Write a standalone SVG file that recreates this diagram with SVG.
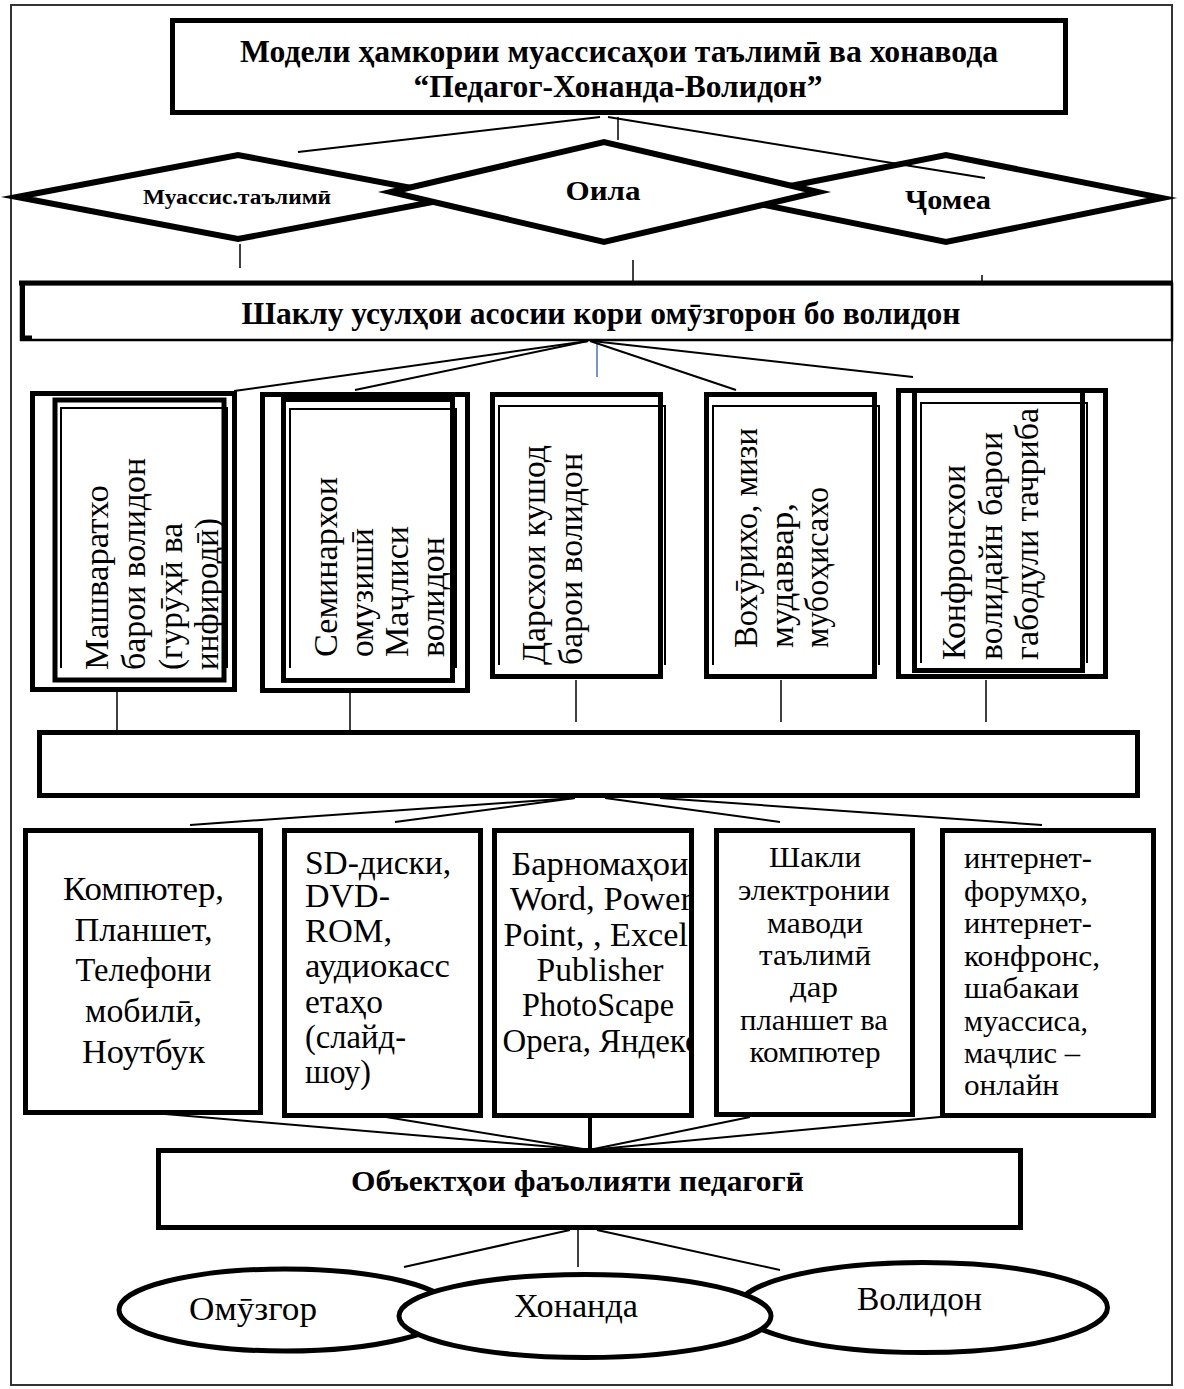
<svg xmlns="http://www.w3.org/2000/svg" width="1184" height="1389" viewBox="0 0 1184 1389">
<style>
text{font-family:"Liberation Serif","Times New Roman",serif;fill:#000}
.b{font-weight:bold}
.box{fill:#fff;stroke:#000;stroke-width:5}
.dia{fill:#fff;stroke:#000;stroke-width:6;stroke-miterlimit:12}
.ell{fill:#fff;stroke:#000;stroke-width:5}
.tf{fill:none;stroke:#000;stroke-width:2}
.c{stroke:#000;stroke-width:2;fill:none}
.c1{stroke:#000;stroke-width:1.5;fill:none}
.mid{text-anchor:middle}
</style>
<defs>
<clipPath id="clipC"><rect x="494" y="830" width="198" height="286"/></clipPath>
</defs>
<rect x="0" y="0" width="1184" height="1389" fill="#fff"/>
<g id="frame"><rect x="11" y="5" width="1161" height="1380" fill="none" stroke="#333" stroke-width="2"/></g>

<g id="title">
<rect class="box" x="172.5" y="20.5" width="893" height="92"/>
<text class="b mid" x="619" y="62" font-size="32" textLength="758" lengthAdjust="spacingAndGlyphs">Модели ҳамкории муассисаҳои таълимӣ ва хонавода</text>
<text class="b mid" x="618" y="97" font-size="32" textLength="409" lengthAdjust="spacingAndGlyphs">“Педагог-Хонанда-Волидон”</text>
</g>

<g id="d-muassis">
<polygon class="dia" points="17,197 238,155 459,197 238,239"/>
<text class="b mid" x="237" y="204" font-size="20" textLength="188" lengthAdjust="spacingAndGlyphs">Муассис.таълимӣ</text>
</g>
<g id="d-jomea">
<polygon class="dia" points="730,198 946,155 1162,198 946,242"/>
<text class="b mid" x="948" y="209" font-size="28" textLength="86" lengthAdjust="spacingAndGlyphs">Ҷомеа</text>
</g>
<g id="d-oila">
<polygon class="dia" points="391,192 604,142 818,192 604,242"/>
<text class="b mid" x="603" y="200" font-size="28" textLength="75" lengthAdjust="spacingAndGlyphs">Оила</text>
</g>

<g id="shaklu">
<rect x="21" y="284" width="1151" height="56" fill="#fff" stroke="#000" stroke-width="2.5"/>
<line x1="19" y1="283" x2="1173" y2="283" stroke="#000" stroke-width="5"/>
<path d="M22.5,283 V338 H32" fill="none" stroke="#000" stroke-width="5"/>
<text class="b mid" x="601" y="324" font-size="32" textLength="719" lengthAdjust="spacingAndGlyphs">Шаклу усулҳои асосии кори омӯзгорон бо волидон</text>
</g>

<g id="v1">
<rect class="box" x="32.5" y="393.5" width="202" height="296"/>
<rect class="box" x="55" y="400" width="169" height="280"/>
<path class="tf" d="M61,668 V408 H227 V668"/>
<g font-size="34">
<text transform="translate(108,670) rotate(-90)" textLength="185" lengthAdjust="spacingAndGlyphs">Машваратхо</text>
<text transform="translate(145,670) rotate(-90)" textLength="212" lengthAdjust="spacingAndGlyphs">барои волидон</text>
<text transform="translate(182,670) rotate(-90)" textLength="147" lengthAdjust="spacingAndGlyphs">(гурӯҳӣ ва</text>
<text transform="translate(218,670) rotate(-90)" textLength="152" lengthAdjust="spacingAndGlyphs">инфиродӣ)</text>
</g>
</g>

<g id="v2">
<rect class="box" x="262.5" y="394.5" width="205" height="296"/>
<rect class="box" x="283.5" y="399.5" width="169" height="281"/>
<path class="tf" d="M290,668 V409 H456 V668"/>
<g font-size="34">
<text transform="translate(337,657) rotate(-90)" textLength="180" lengthAdjust="spacingAndGlyphs">Семинархои</text>
<text transform="translate(373,657) rotate(-90)" textLength="129" lengthAdjust="spacingAndGlyphs">омузишӣ</text>
<text transform="translate(408,657) rotate(-90)" textLength="131" lengthAdjust="spacingAndGlyphs">Маҷлиси</text>
<text transform="translate(444,657) rotate(-90)" textLength="120" lengthAdjust="spacingAndGlyphs">волидон</text>
</g>
</g>

<g id="v3">
<rect class="box" x="492.5" y="394.5" width="168" height="282"/>
<path class="tf" d="M499,665 V406 H665 V665"/>
<g font-size="33">
<text transform="translate(545,665) rotate(-90)" textLength="220" lengthAdjust="spacingAndGlyphs">Дарсхои кушод</text>
<text transform="translate(582,665) rotate(-90)" textLength="212" lengthAdjust="spacingAndGlyphs">барои волидон</text>
</g>
</g>

<g id="v4">
<rect class="box" x="706.5" y="394.5" width="168" height="282"/>
<path class="tf" d="M713,665 V406 H879 V665"/>
<g font-size="33">
<text transform="translate(757,648) rotate(-90)" textLength="220" lengthAdjust="spacingAndGlyphs">Вохӯрихо, мизи</text>
<text transform="translate(793,648) rotate(-90)" textLength="145" lengthAdjust="spacingAndGlyphs">мудаввар,</text>
<text transform="translate(828,648) rotate(-90)" textLength="161" lengthAdjust="spacingAndGlyphs">мубоҳисахо</text>
</g>
</g>

<g id="v5">
<rect class="box" x="898.5" y="390.5" width="207" height="286"/>
<rect class="box" x="914.5" y="390.5" width="168" height="280"/>
<path class="tf" d="M921,663 V403 H1087 V663"/>
<g font-size="33">
<text transform="translate(965,660) rotate(-90)" textLength="195" lengthAdjust="spacingAndGlyphs">Конфронсхои</text>
<text transform="translate(1002,660) rotate(-90)" textLength="228" lengthAdjust="spacingAndGlyphs">волидайн барои</text>
<text transform="translate(1038,660) rotate(-90)" textLength="252" lengthAdjust="spacingAndGlyphs">габодули тачриба</text>
</g>
</g>

<g id="empty-bar">
<rect class="box" x="39.5" y="732.5" width="1098" height="63"/>
</g>

<g id="bA">
<rect class="box" x="25.5" y="830.5" width="235" height="282"/>
<g font-size="34" class="mid">
<text x="143.5" y="900" textLength="161" lengthAdjust="spacingAndGlyphs">Компютер,</text>
<text x="143.5" y="941" textLength="138" lengthAdjust="spacingAndGlyphs">Планшет,</text>
<text x="143.5" y="981" textLength="136" lengthAdjust="spacingAndGlyphs">Телефони</text>
<text x="143.5" y="1022" textLength="117" lengthAdjust="spacingAndGlyphs">мобилӣ,</text>
<text x="143.5" y="1063" textLength="123" lengthAdjust="spacingAndGlyphs">Ноутбук</text>
</g>
</g>

<g id="bB">
<rect class="box" x="284.5" y="830.5" width="196" height="285"/>
<g font-size="33">
<text x="305" y="874" textLength="146" lengthAdjust="spacingAndGlyphs">SD-диски,</text>
<text x="305" y="907" textLength="85" lengthAdjust="spacingAndGlyphs">DVD-</text>
<text x="305" y="942" textLength="87" lengthAdjust="spacingAndGlyphs">ROM,</text>
<text x="305" y="977" textLength="145" lengthAdjust="spacingAndGlyphs">аудиокасс</text>
<text x="305" y="1013" textLength="78" lengthAdjust="spacingAndGlyphs">етаҳо</text>
<text x="305" y="1048" textLength="101" lengthAdjust="spacingAndGlyphs">(слайд-</text>
<text x="305" y="1083" textLength="66" lengthAdjust="spacingAndGlyphs">шоу)</text>
</g>
</g>

<g id="bC">
<g font-size="33" class="mid" clip-path="url(#clipC)">
<text x="600" y="875" textLength="177" lengthAdjust="spacingAndGlyphs">Барномаҳои</text>
<text x="601" y="910" textLength="182" lengthAdjust="spacingAndGlyphs">Word, Power</text>
<text x="600" y="946" textLength="193" lengthAdjust="spacingAndGlyphs">Point, , Excel,</text>
<text x="600" y="981" textLength="127" lengthAdjust="spacingAndGlyphs">Publisher</text>
<text x="598" y="1016" textLength="152" lengthAdjust="spacingAndGlyphs">PhotoScape</text>
<text x="601" y="1052" textLength="197" lengthAdjust="spacingAndGlyphs">Opera, Яндекс</text>
</g>
<rect x="494.5" y="830.5" width="197" height="285" fill="none" stroke="#000" stroke-width="5"/>
</g>

<g id="bD">
<rect class="box" x="716.5" y="830.5" width="196" height="284"/>
<g font-size="30" class="mid">
<text x="815" y="867" textLength="92" lengthAdjust="spacingAndGlyphs">Шакли</text>
<text x="814" y="900" textLength="152" lengthAdjust="spacingAndGlyphs">электронии</text>
<text x="815" y="933" textLength="96" lengthAdjust="spacingAndGlyphs">маводи</text>
<text x="815" y="965" textLength="112" lengthAdjust="spacingAndGlyphs">таълимӣ</text>
<text x="814" y="997" textLength="48" lengthAdjust="spacingAndGlyphs">дар</text>
<text x="814" y="1030" textLength="148" lengthAdjust="spacingAndGlyphs">планшет ва</text>
<text x="815" y="1062" textLength="131" lengthAdjust="spacingAndGlyphs">компютер</text>
</g>
</g>

<g id="bE">
<rect class="box" x="942.5" y="830.5" width="211" height="285"/>
<g font-size="30">
<text x="964" y="868" textLength="128" lengthAdjust="spacingAndGlyphs">интернет-</text>
<text x="964" y="901" textLength="124" lengthAdjust="spacingAndGlyphs">форумҳо,</text>
<text x="964" y="933" textLength="128" lengthAdjust="spacingAndGlyphs">интернет-</text>
<text x="964" y="966" textLength="136" lengthAdjust="spacingAndGlyphs">конфронс,</text>
<text x="964" y="998" textLength="115" lengthAdjust="spacingAndGlyphs">шабакаи</text>
<text x="964" y="1031" textLength="124" lengthAdjust="spacingAndGlyphs">муассиса,</text>
<text x="964" y="1063" textLength="116" lengthAdjust="spacingAndGlyphs">маҷлис –</text>
<text x="964" y="1095" textLength="95" lengthAdjust="spacingAndGlyphs">онлайн</text>
</g>
</g>

<g id="objects">
<rect class="box" x="158.5" y="1150.5" width="862" height="77"/>
<text class="b mid" x="577.5" y="1191" font-size="29" textLength="453" lengthAdjust="spacingAndGlyphs">Объектҳои фаъолияти педагогӣ</text>
</g>

<g id="e-omuzgor">
<ellipse class="ell" cx="285" cy="1310" rx="166" ry="41"/>
<text class="mid" x="253" y="1320" font-size="34" textLength="128" lengthAdjust="spacingAndGlyphs">Омӯзгор</text>
</g>
<g id="e-volidon">
<ellipse class="ell" cx="923" cy="1307.5" rx="184.5" ry="45"/>
<text class="mid" x="919.5" y="1310" font-size="34" textLength="125" lengthAdjust="spacingAndGlyphs">Волидон</text>
</g>
<g id="e-khonanda">
<ellipse class="ell" cx="585" cy="1316" rx="186" ry="41.5"/>
<text class="mid" x="576" y="1317" font-size="34" textLength="124" lengthAdjust="spacingAndGlyphs">Хонанда</text>
</g>

<g id="connectors">
<line class="c" x1="600" y1="117" x2="298" y2="152"/>
<line class="c1" x1="618" y1="117" x2="618" y2="140"/>
<line class="c" x1="608" y1="117" x2="985" y2="178"/>
<line class="c1" x1="240" y1="244" x2="240" y2="268"/>
<line class="c1" x1="633" y1="260" x2="633" y2="285"/>
<line class="c1" x1="982" y1="275" x2="982" y2="285"/>
<line class="c" stroke-width="2.5" x1="588" y1="341" x2="234" y2="391"/>
<line class="c" stroke-width="2.5" x1="588" y1="341" x2="355" y2="390"/>
<line x1="597" y1="341" x2="597" y2="377" stroke="#4472C4" stroke-width="1.5"/>
<line class="c" stroke-width="2.5" x1="590" y1="341" x2="736" y2="390"/>
<line class="c" stroke-width="2.5" x1="592" y1="341" x2="913" y2="377"/>
<line class="c1" x1="117" y1="692" x2="117" y2="730"/>
<line class="c1" x1="350" y1="692" x2="350" y2="730"/>
<line class="c1" x1="576" y1="680" x2="576" y2="722"/>
<line class="c1" x1="781" y1="680" x2="781" y2="722"/>
<line class="c1" x1="986" y1="680" x2="986" y2="722"/>
<line class="c" x1="575" y1="798" x2="190" y2="825"/>
<line class="c" x1="575" y1="798" x2="395" y2="822"/>
<line class="c" x1="605" y1="798" x2="780" y2="822"/>
<line class="c" x1="660" y1="798" x2="1042" y2="825"/>
<line class="c" x1="130" y1="1111" x2="589" y2="1150"/>
<line class="c" x1="386" y1="1117" x2="589" y2="1150"/>
<line class="c" x1="750" y1="1117" x2="589" y2="1150"/>
<line class="c" x1="940" y1="1117" x2="589" y2="1150"/>
<line x1="590" y1="1117" x2="590" y2="1150" stroke="#000" stroke-width="4"/>
<line class="c" x1="570" y1="1230" x2="404" y2="1267"/>
<line class="c1" x1="578" y1="1230" x2="578" y2="1267"/>
<line class="c" x1="597" y1="1230" x2="780" y2="1270"/>
</g>
</svg>
